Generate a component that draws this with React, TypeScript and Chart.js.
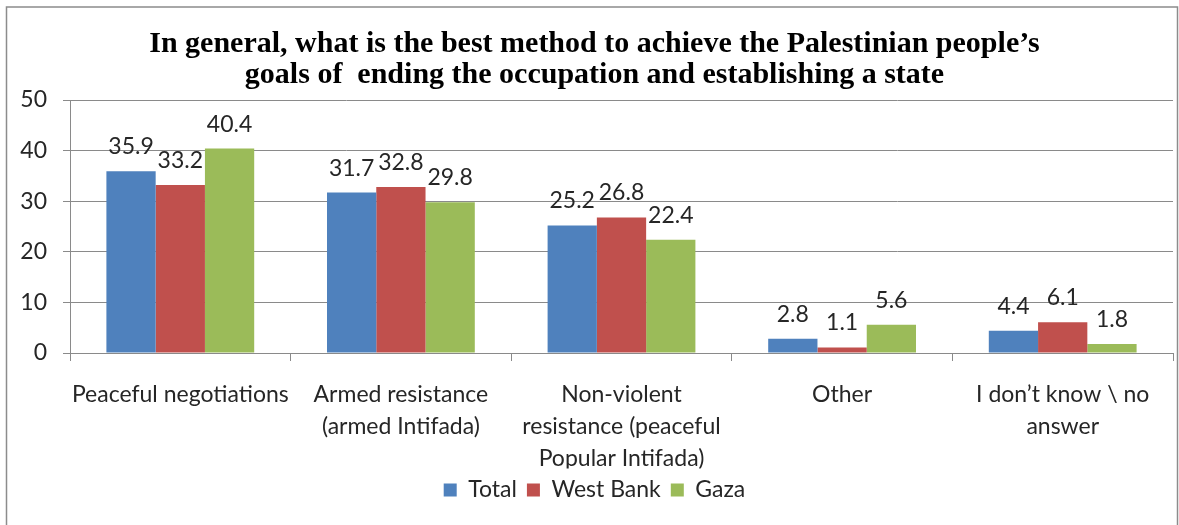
import React, { useEffect, useRef } from "react";
import { Chart, registerables } from "chart.js";

Chart.register(...registerables);

const titleLines = [
  "In general, what is the best method to achieve the Palestinian people’s",
  "goals of  ending the occupation and establishing a state",
];
const categories: string[][] = [
  ["Peaceful negotiations"],
  ["Armed resistance", "(armed Intifada)"],
  ["Non-violent", "resistance (peaceful", "Popular Intifada)"],
  ["Other"],
  ["I don’t know \\ no", "answer"],
];
const seriesNames = ["Total", "West Bank", "Gaza"];
const totalValues = [35.9, 31.7, 25.2, 2.8, 4.4];
const westBankValues = [33.2, 32.8, 26.8, 1.1, 6.1];
const gazaValues = [40.4, 29.8, 22.4, 5.6, 1.8];
const seriesColors = ["#4F81BD", "#C0504D", "#9BBB59"];
const yTicks = [0, 10, 20, 30, 40, 50];

const FONT = "Lato";
const TEXT = "#262626";
const GRID = "#8a8a8a";

const framePlugin = {
  id: "frame",
  beforeDraw(chart: any) {
    const { ctx, width, height } = chart;
    ctx.save();
    ctx.fillStyle = "#ffffff";
    ctx.fillRect(0, 0, width, height);
    ctx.strokeStyle = "#8c8c8c";
    ctx.lineWidth = 1.5;
    ctx.strokeRect(6.5, 7, 1171, height + 20);
    ctx.restore();
  },
};

const valueLabelPlugin = {
  id: "valueLabels",
  afterDatasetsDraw(chart: any) {
    const { ctx } = chart;
    ctx.save();
    ctx.font = `23px ${FONT}`;
    ctx.fillStyle = TEXT;
    ctx.textAlign = "center";
    ctx.textBaseline = "alphabetic";
    chart.data.datasets.forEach((ds: any, di: number) => {
      const meta = chart.getDatasetMeta(di);
      meta.data.forEach((bar: any, i: number) => {
        const v = ds.data[i];
        ctx.fillText(String(v.toFixed(1)), bar.x, bar.y - 17);
      });
    });
    ctx.restore();
  },
};

export default function App() {
  const canvasRef = useRef<HTMLCanvasElement | null>(null);

  useEffect(() => {
    document.body.style.margin = "0";
    const canvas = canvasRef.current;
    if (!canvas) return;
    const values = [totalValues, westBankValues, gazaValues];
    const chart = new Chart(canvas, {
      type: "bar",
      data: {
        labels: categories,
        datasets: seriesNames.map((name, i) => ({
          label: name,
          data: values[i],
          backgroundColor: seriesColors[i],
          borderWidth: 0,
          categoryPercentage: 0.67,
          barPercentage: 1.0,
        })),
      },
      options: {
        responsive: false,
        animation: false,
        devicePixelRatio: 1,
        layout: { padding: { top: 0, left: 16, right: 6, bottom: 13.5 } },
        plugins: {
          title: {
            display: true,
            text: titleLines,
            color: "#000",
            font: { family: "Liberation Serif", weight: "bold", size: 30, lineHeight: 31 / 30 },
            padding: { top: 28.5, bottom: 9.5 },
          },
          legend: {
            display: true,
            position: "bottom",
            labels: {
              boxWidth: 13,
              boxHeight: 13,
              padding: 10,
              color: TEXT,
              font: { family: FONT, size: 23 },
            },
          },
          tooltip: { enabled: false },
        },
        scales: {
          x: {
            grid: {
              display: true,
              drawOnChartArea: false,
              drawTicks: true,
              tickLength: 8,
              offset: true,
              color: GRID,
            },
            border: { display: true, color: GRID },
            ticks: {
              color: TEXT,
              padding: 18,
              maxRotation: 0,
              autoSkip: false,
              font: { family: FONT, size: 23, lineHeight: 32 / 23 },
            },
            afterFit(scale: any) {
              scale.height = 115.5;
            },
          },
          y: {
            min: 0,
            max: 50,
            afterBuildTicks(scale: any) {
              scale.ticks = yTicks.map((v) => ({ value: v }));
            },
            grid: { color: GRID, tickLength: 7, drawTicks: true },
            border: { display: true, color: GRID },
            ticks: {
              color: TEXT,
              padding: 16,
              font: { family: FONT, size: 23 },
            },
            afterFit(scale: any) {
              scale.width = 54;
            },
          },
        },
      },
      plugins: [framePlugin, valueLabelPlugin],
    });
    return () => chart.destroy();
  }, []);

  return (
    <div style={{ position: "absolute", left: 0, top: 0, width: 1179, height: 525 }}>
      <canvas ref={canvasRef} width={1179} height={525} />
    </div>
  );
}
